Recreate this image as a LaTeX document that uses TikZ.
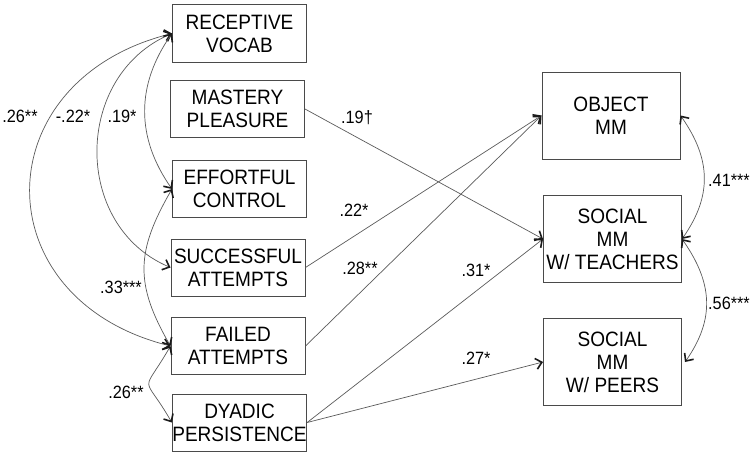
\documentclass[tikz,border=0pt]{standalone}
\usepackage{fontspec}
\setmainfont{Liberation Sans}[FakeStretch=0.915]
\usetikzlibrary{arrows.meta}
\definecolor{boxgray}{HTML}{4A4A4A}
\definecolor{linegray}{HTML}{5A5A5A}
\definecolor{tipcol}{HTML}{1A1A1A}
\begin{document}
\begin{tikzpicture}[x=1pt,y=1pt,
  >={Straight Barb[length=6pt,width=11pt,line width=1.6pt,color=tipcol]},
  box/.style={draw=boxgray, line width=1pt, inner sep=0pt, align=center,
    font=\fontsize{20.8}{23}\selectfont, text=black},
  lbox/.style={box, minimum width=134pt, minimum height=57pt},
  rbox/.style={box, minimum width=138pt, minimum height=87pt},
  conn/.style={draw=linegray, line width=0.7pt},
  lab/.style={font=\fontsize{17.8}{19}\selectfont, inner sep=0pt, text=black}]
\useasboundingbox (0,0) rectangle (754,-460);

% left boxes
\node[lbox] (RV) at (239.5,-33.5) {RECEPTIVE\\VOCAB};
\node[lbox] (MP) at (237.5,-109) {MASTERY\\PLEASURE};
\node[lbox] (EC) at (239.5,-189) {EFFORTFUL\\CONTROL};
\node[lbox] (SA) at (238,-267.5) {SUCCESSFUL\\ATTEMPTS};
\node[lbox] (FA) at (238,-346) {FAILED\\ATTEMPTS};
\node[lbox] (DP) at (239.5,-422.5) {DYADIC\\PERSISTENCE};

% right boxes
\node[rbox] (OM) at (611,-115.5) {OBJECT\\MM};
\node[rbox] (ST) at (612.5,-239) {SOCIAL\\MM\\W/ TEACHERS};
\node[rbox] (SP) at (612.5,-362) {SOCIAL\\MM\\W/ PEERS};

% covariances, left
\draw[conn,<->] (RV.west) .. controls +(194:194) and +(166:194) .. (FA.west);
\draw[conn,<->] (RV.west) .. controls +(203:107) and +(157:107) .. (SA.west);
\draw[conn,<->] (RV.west) .. controls +(235:63) and +(125:63) .. (EC.west);
\draw[conn,<->] (EC.west) .. controls +(240:72) and +(120:72) .. (FA.west);
\draw[conn,<->] (FA.west) .. controls +(240:59) and +(120:59) .. (DP.west);

% covariances, right
\draw[conn,<->] (OM.east) .. controls +(-55:53) and +(55:53) .. (ST.east);
\draw[conn,<->] (ST.east) .. controls +(-55:53) and +(55:53) .. ([xshift=3pt]SP.east);

% paths
\draw[conn,->] (MP.east) -- (ST.west);
\draw[conn,->] (SA.east) -- (OM.west);
\draw[conn,->] (FA.east) -- (OM.west);
\draw[conn,->] (DP.east) -- (ST.west);
\draw[conn,->] (DP.east) -- (SP.west);

% labels
\node[lab] (l1) at (20,-116) {.26**};
\node[lab] (l2) at (73,-116) {-.22*};
\node[lab] (l3) at (122,-116) {.19*};
\node[lab] (l4) at (121,-287) {.33***};
\node[lab] (l5) at (126,-392) {.26**};
\node[lab] (l6) at (357,-118) {.19†};
\node[lab] (l7) at (354,-210) {.22*};
\node[lab] (l8) at (360,-268) {.28**};
\node[lab] (l9) at (476,-270) {.31*};
\node[lab] (l10) at (476,-358) {.27*};
\node[lab] (l11) at (729,-180) {.41***};
\node[lab] (l12) at (729,-303) {.56***};
\end{tikzpicture}
\end{document}
